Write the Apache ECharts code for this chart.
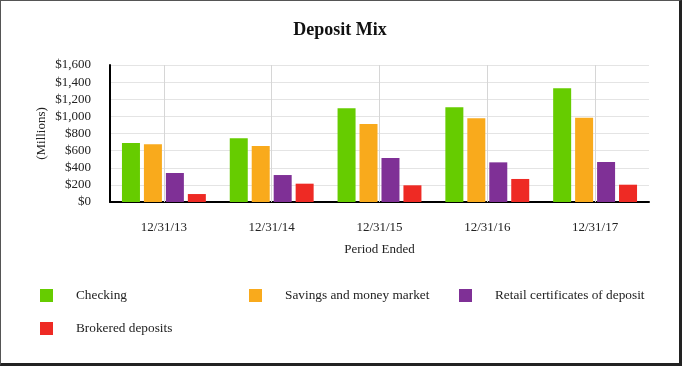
<!DOCTYPE html>
<html>
<head>
<meta charset="utf-8">
<script src="https://cdn.jsdelivr.net/npm/echarts@6/dist/echarts.min.js"></script>
<style>
html,body{margin:0;padding:0;background:#fff;}
#c{position:absolute;left:0;top:0;width:682px;height:366px;box-sizing:border-box;
border-left:1px solid #555;border-top:1px solid #555;border-right:3px solid #222;border-bottom:3px solid #222;}
#chart{width:678px;height:362px;}
</style>
</head>
<body>
<div id="c"><div id="chart"></div></div>
<script>
const categories = ['12/31/13','12/31/14','12/31/15','12/31/16','12/31/17'];
const seriesNames = ['Checking','Savings and money market','Retail certificates of deposit','Brokered deposits'];
const checking = [688, 744, 1094, 1106, 1328];
const savings = [674, 654, 911, 977, 985];
const retailCD = [339, 315, 514, 463, 467];
const brokered = [93, 214, 195, 269, 202];
const yTicks = [0, 200, 400, 600, 800, 1000, 1200, 1400, 1600];
const colors = ['#66cc00', '#f9aa1c', '#7f3096', '#ee2a24'];

const font = 'Liberation Serif, Times New Roman, serif';
const chart = echarts.init(document.getElementById('chart'), null, {renderer:'canvas'});
const values = [checking, savings, retailCD, brokered];

const legendPos = [[39, 288], [248, 288], [458, 288], [39, 321]];
const legends = seriesNames.map((n, i) => ({
  data: [n], left: legendPos[i][0], top: legendPos[i][1],
  orient: 'horizontal', itemWidth: 13, itemHeight: 13, icon: 'rect',
  selectedMode: false, padding: 0,
  textStyle: {fontFamily: font, fontSize: 13.3, color: '#222', padding: [0, 0, 0, 18]}
}));

const series = values.map((v, i) => ({
  name: seriesNames[i], type: 'bar', data: v, barWidth: 18, barGap: '22%',
  itemStyle: {color: colors[i]}, z: 2
}));
series.push({
  type: 'line', data: [], z: 0, silent: true,
  markLine: {
    silent: true, symbol: 'none', label: {show: false},
    lineStyle: {color: '#d6d6d6', type: 'solid', width: 1},
    data: categories.map(c => ({xAxis: c}))
  }
});

chart.setOption({
  animation: false,
  color: colors,
  title: {text: 'Deposit Mix', left: 'center', top: 15,
    textStyle: {fontFamily: font, fontSize: 18, fontWeight: 'bold', color: '#111'}},
  legend: legends,
  grid: {left: 109, right: 30, top: 64, bottom: 161},
  xAxis: {
    type: 'category', data: categories,
    name: 'Period Ended', nameLocation: 'middle', nameGap: 41,
    nameTextStyle: {fontFamily: font, fontSize: 13, color: '#222'},
    axisLine: {lineStyle: {color: '#000', width: 2}},
    axisTick: {alignWithLabel: true, length: 6, lineStyle: {color: '#666'}},
    axisLabel: {fontFamily: font, fontSize: 13, color: '#222', margin: 19},
    splitLine: {show: false}
  },
  yAxis: {
    type: 'value', min: 0, max: 1600, interval: 200,
    name: '(Millions)', nameLocation: 'middle', nameGap: 62, nameMoveOverlap: false,
    nameTextStyle: {fontFamily: font, fontSize: 13, color: '#222'},
    axisLine: {show: true, lineStyle: {color: '#000', width: 2}},
    axisTick: {show: false},
    axisLabel: {fontFamily: font, fontSize: 13, color: '#222', margin: 19,
      formatter: v => '$' + v.toLocaleString('en-US')},
    splitLine: {lineStyle: {color: '#e4e4e4', width: 1}}
  },
  series: series
});
</script>
</body>
</html>
